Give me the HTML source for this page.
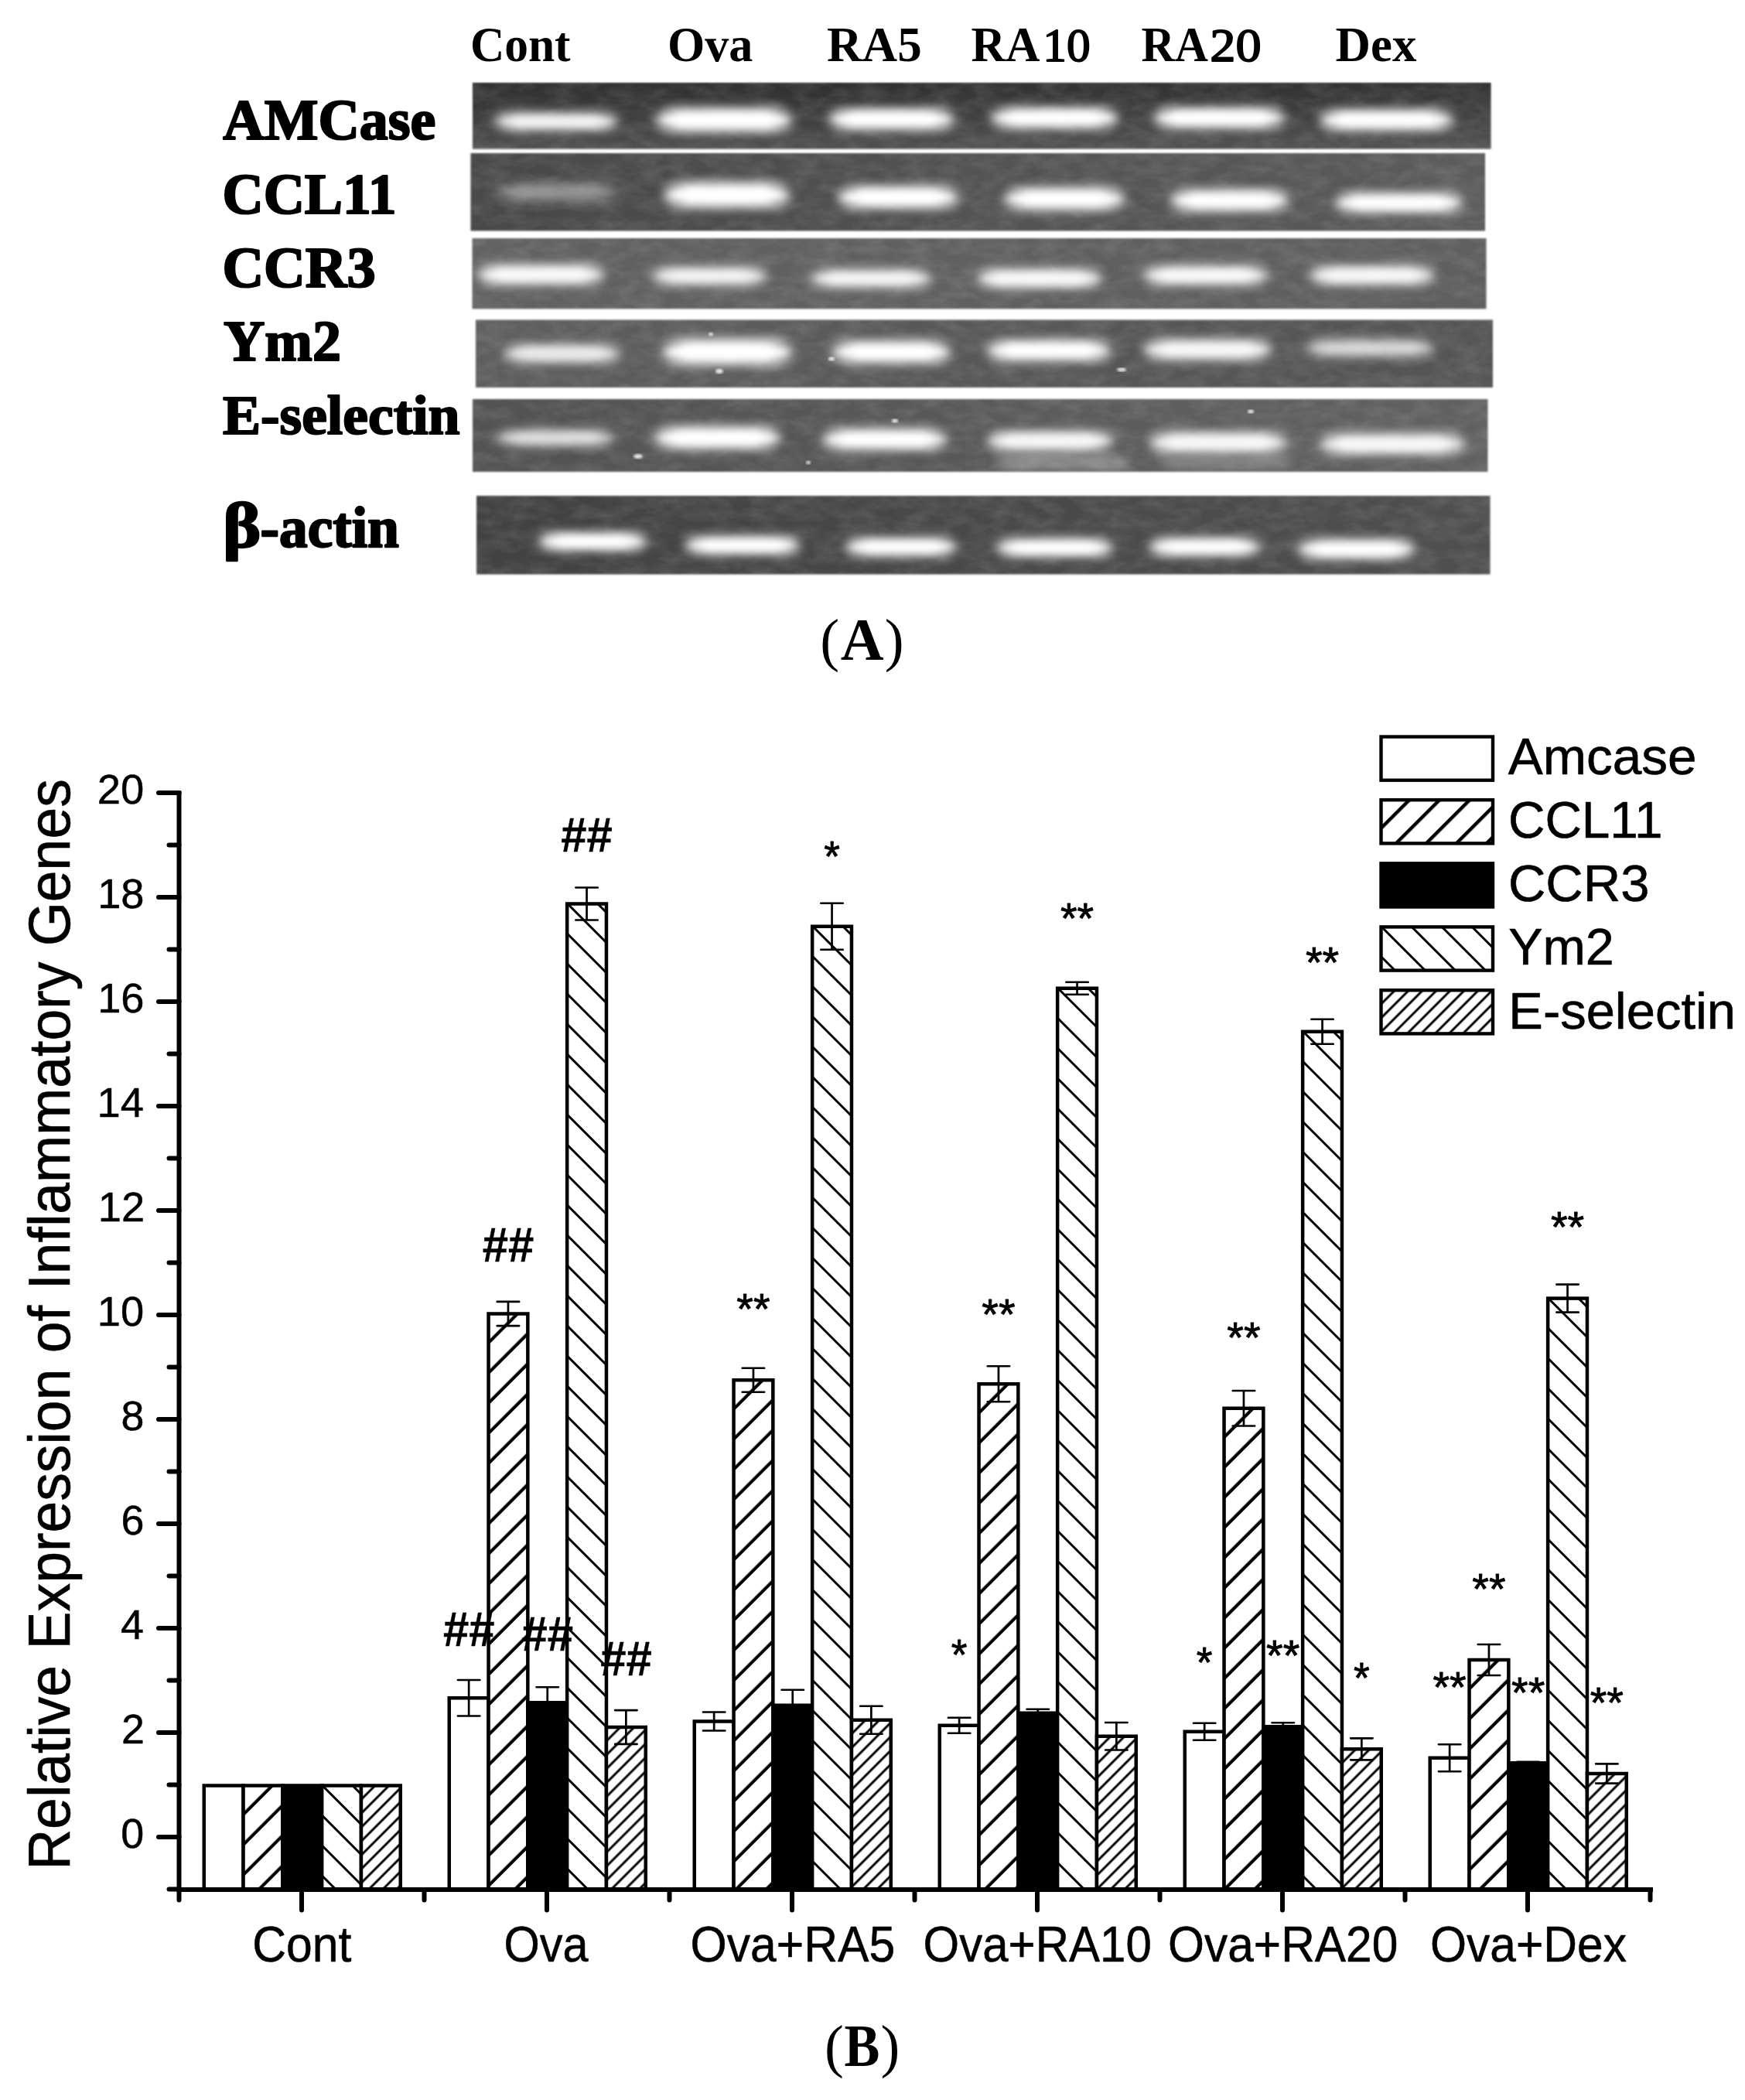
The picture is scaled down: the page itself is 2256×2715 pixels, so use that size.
<!DOCTYPE html>
<html><head><meta charset="utf-8"><title>Figure</title>
<style>html,body{margin:0;padding:0;background:#fff}svg{display:block}text{fill:#000}</style></head>
<body><svg width="2256" height="2715" viewBox="0 0 2256 2715">
<rect width="2256" height="2715" fill="#fff"/>
<defs><filter id="bl" x="-20%" y="-150%" width="140%" height="400%"><feGaussianBlur stdDeviation="6.5 4.5"/></filter><filter id="bl2" x="-20%" y="-150%" width="140%" height="400%"><feGaussianBlur stdDeviation="8 5.5"/></filter><filter id="noise" x="0" y="0" width="100%" height="100%"><feTurbulence type="fractalNoise" baseFrequency="0.035 0.07" numOctaves="3" seed="7"/><feColorMatrix type="matrix" values="0 0 0 0 1  0 0 0 0 1  0 0 0 0 1  0.32 0 0 0 -0.1"/></filter><filter id="bl3"><feGaussianBlur stdDeviation="1.6"/></filter><filter id="edge" x="-2%" y="-8%" width="104%" height="116%"><feGaussianBlur stdDeviation="0.9"/></filter><linearGradient id="gv1" x1="0" y1="0" x2="0" y2="1"><stop offset="0" stop-color="#000" stop-opacity=".22"/><stop offset=".5" stop-color="#000" stop-opacity="0"/><stop offset=".5" stop-color="#fff" stop-opacity="0"/><stop offset="1" stop-color="#fff" stop-opacity=".1"/></linearGradient></defs>
<clipPath id="cs1"><rect x="611" y="107" width="1316.5" height="85.5"/></clipPath>
<linearGradient id="gs1" x1="0" y1="0" x2="1" y2="0"><stop offset="0" stop-color="#3c3c3c"/><stop offset="1" stop-color="#424242"/></linearGradient>
<rect x="611" y="107" width="1316.5" height="85.5" fill="url(#gs1)" filter="url(#edge)"/>
<rect x="611" y="107" width="1316.5" height="85.5" fill="url(#gv1)"/>
<g clip-path="url(#cs1)">
<rect x="611" y="107" width="1316.5" height="85.5" filter="url(#noise)" opacity="0.6"/>
<rect x="640" y="142.5" width="158" height="29" rx="14.5" fill="#fff" opacity="0.48" filter="url(#bl2)"/>
<rect x="849" y="136.0" width="174" height="38" rx="19.0" fill="#fff" opacity="0.55" filter="url(#bl2)"/>
<rect x="1072" y="137.0" width="161" height="34" rx="17.0" fill="#fff" opacity="0.55" filter="url(#bl2)"/>
<rect x="1282" y="136.0" width="163" height="33" rx="16.5" fill="#fff" opacity="0.55" filter="url(#bl2)"/>
<rect x="1492" y="136.0" width="168" height="33" rx="16.5" fill="#fff" opacity="0.55" filter="url(#bl2)"/>
<rect x="1707" y="138.5" width="171" height="33" rx="16.5" fill="#fff" opacity="0.55" filter="url(#bl2)"/>
<g opacity="0.88" filter="url(#bl)" fill="#fff"><rect x="659" y="148.9" width="120" height="16.2" rx="8.1"/><ellipse cx="719.0" cy="157" rx="75.0" ry="8.1"/></g>
<g opacity="1" filter="url(#bl)" fill="#fff"><rect x="868" y="144.2" width="136" height="21.6" rx="10.8"/><ellipse cx="936.0" cy="155" rx="83.0" ry="10.8"/></g>
<g opacity="1" filter="url(#bl)" fill="#fff"><rect x="1091" y="144.4" width="123" height="19.2" rx="9.6"/><ellipse cx="1152.5" cy="154" rx="76.5" ry="9.6"/></g>
<g opacity="1" filter="url(#bl)" fill="#fff"><rect x="1301" y="143.2" width="125" height="18.6" rx="9.3"/><ellipse cx="1363.5" cy="152.5" rx="77.5" ry="9.3"/></g>
<g opacity="1" filter="url(#bl)" fill="#fff"><rect x="1511" y="143.2" width="130" height="18.6" rx="9.3"/><ellipse cx="1576.0" cy="152.5" rx="80.0" ry="9.3"/></g>
<g opacity="1" filter="url(#bl)" fill="#fff"><rect x="1726" y="145.7" width="133" height="18.6" rx="9.3"/><ellipse cx="1792.5" cy="155" rx="81.5" ry="9.3"/></g>
</g>
<clipPath id="cs2"><rect x="608.5" y="198" width="1311.5" height="100.5"/></clipPath>
<linearGradient id="gs2" x1="0" y1="0" x2="1" y2="0"><stop offset="0" stop-color="#494949"/><stop offset="1" stop-color="#5c5c5c"/></linearGradient>
<rect x="608.5" y="198" width="1311.5" height="100.5" fill="url(#gs2)" filter="url(#edge)"/>
<g clip-path="url(#cs2)">
<rect x="608.5" y="198" width="1311.5" height="100.5" filter="url(#noise)" opacity="0.6"/>
<rect x="642" y="232.0" width="156" height="32" rx="16.0" fill="#fff" opacity="0.15" filter="url(#bl2)"/>
<rect x="859" y="232.0" width="161" height="40" rx="20.0" fill="#fff" opacity="0.55" filter="url(#bl2)"/>
<rect x="1084" y="237.5" width="154" height="35" rx="17.5" fill="#fff" opacity="0.55" filter="url(#bl2)"/>
<rect x="1299" y="239.5" width="154" height="35" rx="17.5" fill="#fff" opacity="0.55" filter="url(#bl2)"/>
<rect x="1514" y="242.0" width="151" height="34" rx="17.0" fill="#fff" opacity="0.55" filter="url(#bl2)"/>
<rect x="1727" y="246.5" width="163" height="31" rx="15.5" fill="#fff" opacity="0.55" filter="url(#bl2)"/>
<g opacity="0.27" filter="url(#bl)" fill="#fff"><rect x="661" y="239.0" width="118" height="18.0" rx="9.0"/><ellipse cx="720.0" cy="248" rx="74.0" ry="9.0"/></g>
<g opacity="1" filter="url(#bl)" fill="#fff"><rect x="878" y="240.6" width="123" height="22.8" rx="11.4"/><ellipse cx="939.5" cy="252" rx="76.5" ry="11.4"/></g>
<g opacity="1" filter="url(#bl)" fill="#fff"><rect x="1103" y="245.1" width="116" height="19.8" rx="9.9"/><ellipse cx="1161.0" cy="255" rx="73.0" ry="9.9"/></g>
<g opacity="1" filter="url(#bl)" fill="#fff"><rect x="1318" y="247.1" width="116" height="19.8" rx="9.9"/><ellipse cx="1376.0" cy="257" rx="73.0" ry="9.9"/></g>
<g opacity="1" filter="url(#bl)" fill="#fff"><rect x="1533" y="249.4" width="113" height="19.2" rx="9.6"/><ellipse cx="1589.5" cy="259" rx="71.5" ry="9.6"/></g>
<g opacity="1" filter="url(#bl)" fill="#fff"><rect x="1746" y="253.3" width="125" height="17.4" rx="8.7"/><ellipse cx="1808.5" cy="262" rx="77.5" ry="8.7"/></g>
</g>
<clipPath id="cs3"><rect x="610.5" y="308" width="1311.0" height="91.30000000000001"/></clipPath>
<linearGradient id="gs3" x1="0" y1="0" x2="1" y2="0"><stop offset="0" stop-color="#626262"/><stop offset="1" stop-color="#5e5e5e"/></linearGradient>
<rect x="610.5" y="308" width="1311.0" height="91.30000000000001" fill="url(#gs3)" filter="url(#edge)"/>
<g clip-path="url(#cs3)">
<rect x="610.5" y="308" width="1311.0" height="91.30000000000001" filter="url(#noise)" opacity="0.6"/>
<rect x="618" y="339.0" width="162" height="32" rx="16.0" fill="#fff" opacity="0.51" filter="url(#bl2)"/>
<rect x="844" y="342.5" width="146" height="29" rx="14.5" fill="#fff" opacity="0.47" filter="url(#bl2)"/>
<rect x="1049" y="345.5" width="154" height="29" rx="14.5" fill="#fff" opacity="0.48" filter="url(#bl2)"/>
<rect x="1264" y="345.0" width="159" height="30" rx="15.0" fill="#fff" opacity="0.51" filter="url(#bl2)"/>
<rect x="1479" y="341.0" width="159" height="30" rx="15.0" fill="#fff" opacity="0.51" filter="url(#bl2)"/>
<rect x="1694" y="341.0" width="159" height="30" rx="15.0" fill="#fff" opacity="0.50" filter="url(#bl2)"/>
<g opacity="0.93" filter="url(#bl)" fill="#fff"><rect x="637" y="346.0" width="124" height="18.0" rx="9.0"/><ellipse cx="699.0" cy="355" rx="77.0" ry="9.0"/></g>
<g opacity="0.86" filter="url(#bl)" fill="#fff"><rect x="863" y="348.9" width="108" height="16.2" rx="8.1"/><ellipse cx="917.0" cy="357" rx="69.0" ry="8.1"/></g>
<g opacity="0.88" filter="url(#bl)" fill="#fff"><rect x="1068" y="351.9" width="116" height="16.2" rx="8.1"/><ellipse cx="1126.0" cy="360" rx="73.0" ry="8.1"/></g>
<g opacity="0.92" filter="url(#bl)" fill="#fff"><rect x="1283" y="351.6" width="121" height="16.8" rx="8.4"/><ellipse cx="1343.5" cy="360" rx="75.5" ry="8.4"/></g>
<g opacity="0.92" filter="url(#bl)" fill="#fff"><rect x="1498" y="347.6" width="121" height="16.8" rx="8.4"/><ellipse cx="1558.5" cy="356" rx="75.5" ry="8.4"/></g>
<g opacity="0.9" filter="url(#bl)" fill="#fff"><rect x="1713" y="347.6" width="121" height="16.8" rx="8.4"/><ellipse cx="1773.5" cy="356" rx="75.5" ry="8.4"/></g>
</g>
<clipPath id="cs4"><rect x="615" y="413.5" width="1315" height="87.5"/></clipPath>
<linearGradient id="gs4" x1="0" y1="0" x2="1" y2="0"><stop offset="0" stop-color="#5e5e5e"/><stop offset="1" stop-color="#545454"/></linearGradient>
<rect x="615" y="413.5" width="1315" height="87.5" fill="url(#gs4)" filter="url(#edge)"/>
<g clip-path="url(#cs4)">
<rect x="615" y="413.5" width="1315" height="87.5" filter="url(#noise)" opacity="0.6"/>
<rect x="652" y="442.0" width="149" height="30" rx="15.0" fill="#fff" opacity="0.42" filter="url(#bl2)"/>
<rect x="857" y="435.0" width="166" height="40" rx="20.0" fill="#fff" opacity="0.55" filter="url(#bl2)"/>
<rect x="1077" y="437.5" width="151" height="35" rx="17.5" fill="#fff" opacity="0.55" filter="url(#bl2)"/>
<rect x="1277" y="436.5" width="158" height="33" rx="16.5" fill="#fff" opacity="0.55" filter="url(#bl2)"/>
<rect x="1479" y="435.5" width="164" height="33" rx="16.5" fill="#fff" opacity="0.50" filter="url(#bl2)"/>
<rect x="1689" y="435.5" width="164" height="29" rx="14.5" fill="#fff" opacity="0.34" filter="url(#bl2)"/>
<g opacity="0.76" filter="url(#bl)" fill="#fff"><rect x="671" y="448.6" width="111" height="16.8" rx="8.4"/><ellipse cx="726.5" cy="457" rx="70.5" ry="8.4"/></g>
<g opacity="1" filter="url(#bl)" fill="#fff"><rect x="876" y="443.6" width="128" height="22.8" rx="11.4"/><ellipse cx="940.0" cy="455" rx="79.0" ry="11.4"/></g>
<g opacity="1" filter="url(#bl)" fill="#fff"><rect x="1096" y="445.1" width="113" height="19.8" rx="9.9"/><ellipse cx="1152.5" cy="455" rx="71.5" ry="9.9"/></g>
<g opacity="1" filter="url(#bl)" fill="#fff"><rect x="1296" y="443.7" width="120" height="18.6" rx="9.3"/><ellipse cx="1356.0" cy="453" rx="75.0" ry="9.3"/></g>
<g opacity="0.9" filter="url(#bl)" fill="#fff"><rect x="1498" y="442.7" width="126" height="18.6" rx="9.3"/><ellipse cx="1561.0" cy="452" rx="78.0" ry="9.3"/></g>
<g opacity="0.62" filter="url(#bl)" fill="#fff"><rect x="1708" y="441.9" width="126" height="16.2" rx="8.1"/><ellipse cx="1771.0" cy="450" rx="78.0" ry="8.1"/></g>
</g>
<clipPath id="cs5"><rect x="611" y="516" width="1312.5" height="94"/></clipPath>
<linearGradient id="gs5" x1="0" y1="0" x2="1" y2="0"><stop offset="0" stop-color="#525252"/><stop offset="1" stop-color="#626262"/></linearGradient>
<rect x="611" y="516" width="1312.5" height="94" fill="url(#gs5)" filter="url(#edge)"/>
<g clip-path="url(#cs5)">
<rect x="611" y="516" width="1312.5" height="94" filter="url(#noise)" opacity="0.6"/>
<rect x="644" y="552.5" width="149" height="27" rx="13.5" fill="#fff" opacity="0.37" filter="url(#bl2)"/>
<rect x="847" y="548.5" width="161" height="35" rx="17.5" fill="#fff" opacity="0.55" filter="url(#bl2)"/>
<rect x="1064" y="551.5" width="159" height="33" rx="16.5" fill="#fff" opacity="0.55" filter="url(#bl2)"/>
<rect x="1277" y="554.5" width="161" height="31" rx="15.5" fill="#fff" opacity="0.50" filter="url(#bl2)"/>
<rect x="1487" y="555.5" width="176" height="33" rx="16.5" fill="#fff" opacity="0.50" filter="url(#bl2)"/>
<rect x="1707" y="557.5" width="186" height="33" rx="16.5" fill="#fff" opacity="0.50" filter="url(#bl2)"/>
<g opacity="0.68" filter="url(#bl)" fill="#fff"><rect x="663" y="558.5" width="111" height="15.0" rx="7.5"/><ellipse cx="718.5" cy="566" rx="70.5" ry="7.5"/></g>
<g opacity="1" filter="url(#bl)" fill="#fff"><rect x="866" y="556.1" width="123" height="19.8" rx="9.9"/><ellipse cx="927.5" cy="566" rx="76.5" ry="9.9"/></g>
<g opacity="1" filter="url(#bl)" fill="#fff"><rect x="1083" y="558.7" width="121" height="18.6" rx="9.3"/><ellipse cx="1143.5" cy="568" rx="75.5" ry="9.3"/></g>
<g opacity="0.9" filter="url(#bl)" fill="#fff"><rect x="1296" y="561.3" width="123" height="17.4" rx="8.7"/><ellipse cx="1357.5" cy="570" rx="76.5" ry="8.7"/></g>
<g opacity="0.9" filter="url(#bl)" fill="#fff"><rect x="1506" y="562.7" width="138" height="18.6" rx="9.3"/><ellipse cx="1575.0" cy="572" rx="84.0" ry="9.3"/></g>
<g opacity="0.9" filter="url(#bl)" fill="#fff"><rect x="1726" y="564.7" width="148" height="18.6" rx="9.3"/><ellipse cx="1800.0" cy="574" rx="89.0" ry="9.3"/></g>
</g>
<clipPath id="cs6"><rect x="616" y="641" width="1310.5" height="101.5"/></clipPath>
<linearGradient id="gs6" x1="0" y1="0" x2="1" y2="0"><stop offset="0" stop-color="#424242"/><stop offset="1" stop-color="#505050"/></linearGradient>
<rect x="616" y="641" width="1310.5" height="101.5" fill="url(#gs6)" filter="url(#edge)"/>
<g clip-path="url(#cs6)">
<rect x="616" y="641" width="1310.5" height="101.5" filter="url(#noise)" opacity="0.6"/>
<rect x="697" y="685.5" width="138" height="29" rx="14.5" fill="#fff" opacity="0.55" filter="url(#bl2)"/>
<rect x="887" y="690.5" width="146" height="29" rx="14.5" fill="#fff" opacity="0.55" filter="url(#bl2)"/>
<rect x="1094" y="692.5" width="141" height="29" rx="14.5" fill="#fff" opacity="0.55" filter="url(#bl2)"/>
<rect x="1289" y="693.5" width="149" height="29" rx="14.5" fill="#fff" opacity="0.55" filter="url(#bl2)"/>
<rect x="1487" y="692.5" width="141" height="29" rx="14.5" fill="#fff" opacity="0.55" filter="url(#bl2)"/>
<rect x="1679" y="694.5" width="149" height="31" rx="15.5" fill="#fff" opacity="0.55" filter="url(#bl2)"/>
<g opacity="1" filter="url(#bl)" fill="#fff"><rect x="716" y="691.9" width="100" height="16.2" rx="8.1"/><ellipse cx="766.0" cy="700" rx="65.0" ry="8.1"/></g>
<g opacity="1" filter="url(#bl)" fill="#fff"><rect x="906" y="696.9" width="108" height="16.2" rx="8.1"/><ellipse cx="960.0" cy="705" rx="69.0" ry="8.1"/></g>
<g opacity="1" filter="url(#bl)" fill="#fff"><rect x="1113" y="698.9" width="103" height="16.2" rx="8.1"/><ellipse cx="1164.5" cy="707" rx="66.5" ry="8.1"/></g>
<g opacity="1" filter="url(#bl)" fill="#fff"><rect x="1308" y="699.9" width="111" height="16.2" rx="8.1"/><ellipse cx="1363.5" cy="708" rx="70.5" ry="8.1"/></g>
<g opacity="1" filter="url(#bl)" fill="#fff"><rect x="1506" y="698.9" width="103" height="16.2" rx="8.1"/><ellipse cx="1557.5" cy="707" rx="66.5" ry="8.1"/></g>
<g opacity="1" filter="url(#bl)" fill="#fff"><rect x="1698" y="701.3" width="111" height="17.4" rx="8.7"/><ellipse cx="1753.5" cy="710" rx="70.5" ry="8.7"/></g>
</g>
<ellipse cx="930" cy="480" rx="5" ry="3" fill="#fff" opacity=".85" filter="url(#bl3)"/>
<ellipse cx="1075" cy="464" rx="4" ry="2.5" fill="#fff" opacity=".85" filter="url(#bl3)"/>
<ellipse cx="825" cy="590" rx="6" ry="3" fill="#fff" opacity=".85" filter="url(#bl3)"/>
<ellipse cx="1157" cy="544" rx="4" ry="2.5" fill="#fff" opacity=".85" filter="url(#bl3)"/>
<ellipse cx="1450" cy="478" rx="6" ry="2.5" fill="#fff" opacity=".85" filter="url(#bl3)"/>
<ellipse cx="1617" cy="532" rx="4" ry="2.5" fill="#fff" opacity=".85" filter="url(#bl3)"/>
<ellipse cx="919" cy="432" rx="3" ry="2" fill="#fff" opacity=".85" filter="url(#bl3)"/>
<ellipse cx="1045" cy="598" rx="3" ry="2" fill="#fff" opacity=".85" filter="url(#bl3)"/>
<g clip-path="url(#cs5)"><rect x="1290" y="588" width="170" height="20" rx="10" fill="#fff" opacity=".28" filter="url(#bl2)"/><rect x="1500" y="590" width="170" height="18" rx="9" fill="#fff" opacity=".2" filter="url(#bl2)"/></g>
<text transform="matrix(0.6141 0 0 0.6288 607.93 79.00)" font-family='"Liberation Serif", "Times New Roman", serif' font-size="100" font-weight="bold">Cont</text>
<text transform="matrix(0.6210 0 0 0.6288 862.90 79.00)" font-family='"Liberation Serif", "Times New Roman", serif' font-size="100" font-weight="bold">Ova</text>
<text transform="matrix(0.6306 0 0 0.6288 1069.05 79.00)" font-family='"Liberation Serif", "Times New Roman", serif' font-size="100" font-weight="bold">RA5</text>
<text transform="matrix(0.6292 0 0 0.6336 1726.56 79.00)" font-family='"Liberation Serif", "Times New Roman", serif' font-size="100" font-weight="bold">Dex</text>
<text transform="matrix(0.6194 0 0 0.6288 0 79.00)" font-size="100"><tspan x="2026.82" textLength="143.70" lengthAdjust="spacingAndGlyphs" font-family='"Liberation Serif", "Times New Roman", serif' font-size="100.00" font-weight="bold">RA</tspan><tspan x="2176.69" textLength="99.21" lengthAdjust="spacingAndGlyphs" font-family='"Liberation Serif", "Times New Roman", serif' font-size="97.16" font-weight="normal" stroke="#000" stroke-width="2.8" stroke-linejoin="round">10</tspan></text>
<text transform="matrix(0.6194 0 0 0.6288 0 79.00)" font-size="100"><tspan x="2382.07" textLength="139.60" lengthAdjust="spacingAndGlyphs" font-family='"Liberation Serif", "Times New Roman", serif' font-size="100.00" font-weight="bold">RA</tspan><tspan x="2525.41" textLength="107.23" lengthAdjust="spacingAndGlyphs" font-family='"Liberation Serif", "Times New Roman", serif' font-size="97.16" font-weight="normal" stroke="#000" stroke-width="2.8" stroke-linejoin="round">20</tspan></text>
<text transform="matrix(0.7389 0 0 0.7407 288.37 179.50)" font-family='"Liberation Serif", "Times New Roman", serif' font-size="100" font-weight="bold" stroke="#000" stroke-width="3" stroke-linejoin="round">AMCase</text>
<text transform="matrix(0.7370 0 0 0.7481 287.42 275.50)" font-family='"Liberation Serif", "Times New Roman", serif' font-size="100" font-weight="bold" stroke="#000" stroke-width="3" stroke-linejoin="round">CCL11</text>
<text transform="matrix(0.7433 0 0 0.7407 287.40 370.50)" font-family='"Liberation Serif", "Times New Roman", serif' font-size="100" font-weight="bold" stroke="#000" stroke-width="3" stroke-linejoin="round">CCR3</text>
<text transform="matrix(0.7389 0 0 0.7407 289.00 466.00)" font-family='"Liberation Serif", "Times New Roman", serif' font-size="100" font-weight="bold" stroke="#000" stroke-width="3" stroke-linejoin="round">Ym2</text>
<text transform="matrix(0.7359 0 0 0.7113 288.00 561.00)" font-family='"Liberation Serif", "Times New Roman", serif' font-size="100" font-weight="bold" stroke="#000" stroke-width="3" stroke-linejoin="round">E-selectin</text>
<text transform="matrix(0.7570 0 0 0.7570 0 707.00)" font-size="100"><tspan x="380.43" textLength="65.22" lengthAdjust="spacingAndGlyphs" font-family='"Liberation Serif", "Times New Roman", serif' font-size="109.46" font-weight="bold" stroke="#000" stroke-width="3" stroke-linejoin="round">β</tspan><tspan x="444.61" font-family='"Liberation Serif", "Times New Roman", serif' font-size="96.93" font-weight="bold" stroke="#000" stroke-width="3" stroke-linejoin="round">-actin</tspan></text>
<text transform="matrix(0.7463 0 0 0.7615 0 853.06)" font-size="100"><tspan x="1420.85" font-family='"Liberation Serif", "Times New Roman", serif' font-size="100.00" font-weight="normal">(</tspan><tspan x="1456.14" textLength="74.81" lengthAdjust="spacingAndGlyphs" font-family='"Liberation Serif", "Times New Roman", serif' font-size="102.96" font-weight="bold">A</tspan><tspan x="1532.69" font-family='"Liberation Serif", "Times New Roman", serif' font-size="100.00" font-weight="normal">)</tspan></text>
<text transform="matrix(0.7458 0 0 0.7610 0 2671.07)" font-size="100"><tspan x="1429.25" font-family='"Liberation Serif", "Times New Roman", serif' font-size="100.00" font-weight="normal">(</tspan><tspan x="1463.55" textLength="61.54" lengthAdjust="spacingAndGlyphs" font-family='"Liberation Serif", "Times New Roman", serif' font-size="101.54" font-weight="bold">B</tspan><tspan x="1526.44" font-family='"Liberation Serif", "Times New Roman", serif' font-size="100.00" font-weight="normal">)</tspan></text>
<defs><pattern id="p1" patternUnits="userSpaceOnUse" width="40" height="27.5772" patternTransform="translate(314.55 2308.50) rotate(-45)"><rect width="40" height="27.5772" fill="#fff"/><line x1="-1" x2="41" y1="13.789" y2="13.789" stroke="#000" stroke-width="4.3" transform="translate(0 -14.849)"/><line x1="-1" x2="41" y1="13.789" y2="13.789" stroke="#000" stroke-width="4.3" transform="translate(0 12.728)"/></pattern><pattern id="p2" patternUnits="userSpaceOnUse" width="40" height="27.5772" patternTransform="translate(416.15 2308.50) rotate(45)"><rect width="40" height="27.5772" fill="#fff"/><line x1="-1" x2="41" y1="13.789" y2="13.789" stroke="#000" stroke-width="2.9" transform="translate(0 -14.213)"/><line x1="-1" x2="41" y1="13.789" y2="13.789" stroke="#000" stroke-width="2.9" transform="translate(0 13.364)"/></pattern><pattern id="p3" patternUnits="userSpaceOnUse" width="40" height="12.7279" patternTransform="translate(466.95 2308.50) rotate(-45)"><rect width="40" height="12.7279" fill="#fff"/><line x1="-1" x2="41" y1="6.364" y2="6.364" stroke="#000" stroke-width="2.9" transform="translate(0 -6.364)"/><line x1="-1" x2="41" y1="6.364" y2="6.364" stroke="#000" stroke-width="2.9" transform="translate(0 6.364)"/></pattern><pattern id="p4" patternUnits="userSpaceOnUse" width="40" height="27.5772" patternTransform="translate(631.55 1698.50) rotate(-45)"><rect width="40" height="27.5772" fill="#fff"/><line x1="-1" x2="41" y1="13.789" y2="13.789" stroke="#000" stroke-width="4.3" transform="translate(0 -14.849)"/><line x1="-1" x2="41" y1="13.789" y2="13.789" stroke="#000" stroke-width="4.3" transform="translate(0 12.728)"/></pattern><pattern id="p5" patternUnits="userSpaceOnUse" width="40" height="27.5772" patternTransform="translate(733.15 1168.50) rotate(45)"><rect width="40" height="27.5772" fill="#fff"/><line x1="-1" x2="41" y1="13.789" y2="13.789" stroke="#000" stroke-width="2.9" transform="translate(0 -14.213)"/><line x1="-1" x2="41" y1="13.789" y2="13.789" stroke="#000" stroke-width="2.9" transform="translate(0 13.364)"/></pattern><pattern id="p6" patternUnits="userSpaceOnUse" width="40" height="12.7279" patternTransform="translate(783.95 2233.00) rotate(-45)"><rect width="40" height="12.7279" fill="#fff"/><line x1="-1" x2="41" y1="6.364" y2="6.364" stroke="#000" stroke-width="2.9" transform="translate(0 -6.364)"/><line x1="-1" x2="41" y1="6.364" y2="6.364" stroke="#000" stroke-width="2.9" transform="translate(0 6.364)"/></pattern><pattern id="p7" patternUnits="userSpaceOnUse" width="40" height="27.5772" patternTransform="translate(948.55 1784.25) rotate(-45)"><rect width="40" height="27.5772" fill="#fff"/><line x1="-1" x2="41" y1="13.789" y2="13.789" stroke="#000" stroke-width="4.3" transform="translate(0 -14.849)"/><line x1="-1" x2="41" y1="13.789" y2="13.789" stroke="#000" stroke-width="4.3" transform="translate(0 12.728)"/></pattern><pattern id="p8" patternUnits="userSpaceOnUse" width="40" height="27.5772" patternTransform="translate(1050.15 1197.75) rotate(45)"><rect width="40" height="27.5772" fill="#fff"/><line x1="-1" x2="41" y1="13.789" y2="13.789" stroke="#000" stroke-width="2.9" transform="translate(0 -14.213)"/><line x1="-1" x2="41" y1="13.789" y2="13.789" stroke="#000" stroke-width="2.9" transform="translate(0 13.364)"/></pattern><pattern id="p9" patternUnits="userSpaceOnUse" width="40" height="12.7279" patternTransform="translate(1100.95 2223.75) rotate(-45)"><rect width="40" height="12.7279" fill="#fff"/><line x1="-1" x2="41" y1="6.364" y2="6.364" stroke="#000" stroke-width="2.9" transform="translate(0 -6.364)"/><line x1="-1" x2="41" y1="6.364" y2="6.364" stroke="#000" stroke-width="2.9" transform="translate(0 6.364)"/></pattern><pattern id="p10" patternUnits="userSpaceOnUse" width="40" height="27.5772" patternTransform="translate(1265.55 1789.25) rotate(-45)"><rect width="40" height="27.5772" fill="#fff"/><line x1="-1" x2="41" y1="13.789" y2="13.789" stroke="#000" stroke-width="4.3" transform="translate(0 -14.849)"/><line x1="-1" x2="41" y1="13.789" y2="13.789" stroke="#000" stroke-width="4.3" transform="translate(0 12.728)"/></pattern><pattern id="p11" patternUnits="userSpaceOnUse" width="40" height="27.5772" patternTransform="translate(1367.15 1277.75) rotate(45)"><rect width="40" height="27.5772" fill="#fff"/><line x1="-1" x2="41" y1="13.789" y2="13.789" stroke="#000" stroke-width="2.9" transform="translate(0 -14.213)"/><line x1="-1" x2="41" y1="13.789" y2="13.789" stroke="#000" stroke-width="2.9" transform="translate(0 13.364)"/></pattern><pattern id="p12" patternUnits="userSpaceOnUse" width="40" height="12.7279" patternTransform="translate(1417.95 2244.75) rotate(-45)"><rect width="40" height="12.7279" fill="#fff"/><line x1="-1" x2="41" y1="6.364" y2="6.364" stroke="#000" stroke-width="2.9" transform="translate(0 -6.364)"/><line x1="-1" x2="41" y1="6.364" y2="6.364" stroke="#000" stroke-width="2.9" transform="translate(0 6.364)"/></pattern><pattern id="p13" patternUnits="userSpaceOnUse" width="40" height="27.5772" patternTransform="translate(1582.55 1820.75) rotate(-45)"><rect width="40" height="27.5772" fill="#fff"/><line x1="-1" x2="41" y1="13.789" y2="13.789" stroke="#000" stroke-width="4.3" transform="translate(0 -14.849)"/><line x1="-1" x2="41" y1="13.789" y2="13.789" stroke="#000" stroke-width="4.3" transform="translate(0 12.728)"/></pattern><pattern id="p14" patternUnits="userSpaceOnUse" width="40" height="27.5772" patternTransform="translate(1684.15 1333.75) rotate(45)"><rect width="40" height="27.5772" fill="#fff"/><line x1="-1" x2="41" y1="13.789" y2="13.789" stroke="#000" stroke-width="2.9" transform="translate(0 -14.213)"/><line x1="-1" x2="41" y1="13.789" y2="13.789" stroke="#000" stroke-width="2.9" transform="translate(0 13.364)"/></pattern><pattern id="p15" patternUnits="userSpaceOnUse" width="40" height="12.7279" patternTransform="translate(1734.95 2261.30) rotate(-45)"><rect width="40" height="12.7279" fill="#fff"/><line x1="-1" x2="41" y1="6.364" y2="6.364" stroke="#000" stroke-width="2.9" transform="translate(0 -6.364)"/><line x1="-1" x2="41" y1="6.364" y2="6.364" stroke="#000" stroke-width="2.9" transform="translate(0 6.364)"/></pattern><pattern id="p16" patternUnits="userSpaceOnUse" width="40" height="27.5772" patternTransform="translate(1899.55 2146.00) rotate(-45)"><rect width="40" height="27.5772" fill="#fff"/><line x1="-1" x2="41" y1="13.789" y2="13.789" stroke="#000" stroke-width="4.3" transform="translate(0 -14.849)"/><line x1="-1" x2="41" y1="13.789" y2="13.789" stroke="#000" stroke-width="4.3" transform="translate(0 12.728)"/></pattern><pattern id="p17" patternUnits="userSpaceOnUse" width="40" height="27.5772" patternTransform="translate(2001.15 1678.60) rotate(45)"><rect width="40" height="27.5772" fill="#fff"/><line x1="-1" x2="41" y1="13.789" y2="13.789" stroke="#000" stroke-width="2.9" transform="translate(0 -14.213)"/><line x1="-1" x2="41" y1="13.789" y2="13.789" stroke="#000" stroke-width="2.9" transform="translate(0 13.364)"/></pattern><pattern id="p18" patternUnits="userSpaceOnUse" width="40" height="12.7279" patternTransform="translate(2051.95 2293.00) rotate(-45)"><rect width="40" height="12.7279" fill="#fff"/><line x1="-1" x2="41" y1="6.364" y2="6.364" stroke="#000" stroke-width="2.9" transform="translate(0 -6.364)"/><line x1="-1" x2="41" y1="6.364" y2="6.364" stroke="#000" stroke-width="2.9" transform="translate(0 6.364)"/></pattern></defs>
<g shape-rendering="auto"><rect x="263.75" y="2308.50" width="50.80" height="134.50" fill="#fff" stroke="#000" stroke-width="4.5"/><rect x="314.55" y="2308.50" width="50.80" height="134.50" fill="url(#p1)" stroke="#000" stroke-width="4.5"/><rect x="365.35" y="2308.50" width="50.80" height="134.50" fill="#000" stroke="#000" stroke-width="4.5"/><rect x="416.15" y="2308.50" width="50.80" height="134.50" fill="url(#p2)" stroke="#000" stroke-width="4.5"/><rect x="466.95" y="2308.50" width="50.80" height="134.50" fill="url(#p3)" stroke="#000" stroke-width="4.5"/><rect x="580.75" y="2195.25" width="50.80" height="247.75" fill="#fff" stroke="#000" stroke-width="4.5"/><rect x="631.55" y="1698.50" width="50.80" height="744.50" fill="url(#p4)" stroke="#000" stroke-width="4.5"/><rect x="682.35" y="2201.25" width="50.80" height="241.75" fill="#000" stroke="#000" stroke-width="4.5"/><rect x="733.15" y="1168.50" width="50.80" height="1274.50" fill="url(#p5)" stroke="#000" stroke-width="4.5"/><rect x="783.95" y="2233.00" width="50.80" height="210.00" fill="url(#p6)" stroke="#000" stroke-width="4.5"/><rect x="897.75" y="2225.50" width="50.80" height="217.50" fill="#fff" stroke="#000" stroke-width="4.5"/><rect x="948.55" y="1784.25" width="50.80" height="658.75" fill="url(#p7)" stroke="#000" stroke-width="4.5"/><rect x="999.35" y="2204.75" width="50.80" height="238.25" fill="#000" stroke="#000" stroke-width="4.5"/><rect x="1050.15" y="1197.75" width="50.80" height="1245.25" fill="url(#p8)" stroke="#000" stroke-width="4.5"/><rect x="1100.95" y="2223.75" width="50.80" height="219.25" fill="url(#p9)" stroke="#000" stroke-width="4.5"/><rect x="1214.75" y="2230.75" width="50.80" height="212.25" fill="#fff" stroke="#000" stroke-width="4.5"/><rect x="1265.55" y="1789.25" width="50.80" height="653.75" fill="url(#p10)" stroke="#000" stroke-width="4.5"/><rect x="1316.35" y="2214.75" width="50.80" height="228.25" fill="#000" stroke="#000" stroke-width="4.5"/><rect x="1367.15" y="1277.75" width="50.80" height="1165.25" fill="url(#p11)" stroke="#000" stroke-width="4.5"/><rect x="1417.95" y="2244.75" width="50.80" height="198.25" fill="url(#p12)" stroke="#000" stroke-width="4.5"/><rect x="1531.75" y="2238.75" width="50.80" height="204.25" fill="#fff" stroke="#000" stroke-width="4.5"/><rect x="1582.55" y="1820.75" width="50.80" height="622.25" fill="url(#p13)" stroke="#000" stroke-width="4.5"/><rect x="1633.35" y="2232.25" width="50.80" height="210.75" fill="#000" stroke="#000" stroke-width="4.5"/><rect x="1684.15" y="1333.75" width="50.80" height="1109.25" fill="url(#p14)" stroke="#000" stroke-width="4.5"/><rect x="1734.95" y="2261.30" width="50.80" height="181.70" fill="url(#p15)" stroke="#000" stroke-width="4.5"/><rect x="1848.75" y="2272.75" width="50.80" height="170.25" fill="#fff" stroke="#000" stroke-width="4.5"/><rect x="1899.55" y="2146.00" width="50.80" height="297.00" fill="url(#p16)" stroke="#000" stroke-width="4.5"/><rect x="1950.35" y="2279.25" width="50.80" height="163.75" fill="#000" stroke="#000" stroke-width="4.5"/><rect x="2001.15" y="1678.60" width="50.80" height="764.40" fill="url(#p17)" stroke="#000" stroke-width="4.5"/><rect x="2051.95" y="2293.00" width="50.80" height="150.00" fill="url(#p18)" stroke="#000" stroke-width="4.5"/></g>
<path d="M606.15 2172.00V2218.50M591.95 2172.00h28.4M591.95 2218.50h28.4" stroke="#000" stroke-width="2.7" fill="none" stroke-linecap="round"/><path d="M656.95 1682.90V1714.10M642.75 1682.90h28.4M642.75 1714.10h28.4" stroke="#000" stroke-width="2.7" fill="none" stroke-linecap="round"/><path d="M707.75 2181.25V2221.25M693.55 2181.25h28.4M693.55 2221.25h28.4" stroke="#000" stroke-width="2.7" fill="none" stroke-linecap="round"/><path d="M758.55 1147.50V1189.50M744.35 1147.50h28.4M744.35 1189.50h28.4" stroke="#000" stroke-width="2.7" fill="none" stroke-linecap="round"/><path d="M809.35 2211.10V2254.90M795.15 2211.10h28.4M795.15 2254.90h28.4" stroke="#000" stroke-width="2.7" fill="none" stroke-linecap="round"/><path d="M923.15 2213.50V2237.50M908.95 2213.50h28.4M908.95 2237.50h28.4" stroke="#000" stroke-width="2.7" fill="none" stroke-linecap="round"/><path d="M973.95 1768.75V1799.75M959.75 1768.75h28.4M959.75 1799.75h28.4" stroke="#000" stroke-width="2.7" fill="none" stroke-linecap="round"/><path d="M1024.75 2184.75V2224.75M1010.55 2184.75h28.4M1010.55 2224.75h28.4" stroke="#000" stroke-width="2.7" fill="none" stroke-linecap="round"/><path d="M1075.55 1167.75V1227.75M1061.35 1167.75h28.4M1061.35 1227.75h28.4" stroke="#000" stroke-width="2.7" fill="none" stroke-linecap="round"/><path d="M1126.35 2205.75V2241.75M1112.15 2205.75h28.4M1112.15 2241.75h28.4" stroke="#000" stroke-width="2.7" fill="none" stroke-linecap="round"/><path d="M1240.15 2220.75V2240.75M1225.95 2220.75h28.4M1225.95 2240.75h28.4" stroke="#000" stroke-width="2.7" fill="none" stroke-linecap="round"/><path d="M1290.95 1766.25V1812.25M1276.75 1766.25h28.4M1276.75 1812.25h28.4" stroke="#000" stroke-width="2.7" fill="none" stroke-linecap="round"/><path d="M1341.75 2209.75V2219.75M1327.55 2209.75h28.4M1327.55 2219.75h28.4" stroke="#000" stroke-width="2.7" fill="none" stroke-linecap="round"/><path d="M1392.55 1269.75V1285.75M1378.35 1269.75h28.4M1378.35 1285.75h28.4" stroke="#000" stroke-width="2.7" fill="none" stroke-linecap="round"/><path d="M1443.35 2227.00V2262.50M1429.15 2227.00h28.4M1429.15 2262.50h28.4" stroke="#000" stroke-width="2.7" fill="none" stroke-linecap="round"/><path d="M1557.15 2227.75V2249.75M1542.95 2227.75h28.4M1542.95 2249.75h28.4" stroke="#000" stroke-width="2.7" fill="none" stroke-linecap="round"/><path d="M1607.95 1798.00V1843.50M1593.75 1798.00h28.4M1593.75 1843.50h28.4" stroke="#000" stroke-width="2.7" fill="none" stroke-linecap="round"/><path d="M1658.75 2227.25V2237.25M1644.55 2227.25h28.4M1644.55 2237.25h28.4" stroke="#000" stroke-width="2.7" fill="none" stroke-linecap="round"/><path d="M1709.55 1317.75V1349.75M1695.35 1317.75h28.4M1695.35 1349.75h28.4" stroke="#000" stroke-width="2.7" fill="none" stroke-linecap="round"/><path d="M1760.35 2247.30V2275.30M1746.15 2247.30h28.4M1746.15 2275.30h28.4" stroke="#000" stroke-width="2.7" fill="none" stroke-linecap="round"/><path d="M1874.15 2255.25V2290.25M1859.95 2255.25h28.4M1859.95 2290.25h28.4" stroke="#000" stroke-width="2.7" fill="none" stroke-linecap="round"/><path d="M1924.95 2126.00V2166.00M1910.75 2126.00h28.4M1910.75 2166.00h28.4" stroke="#000" stroke-width="2.7" fill="none" stroke-linecap="round"/><path d="M1975.75 2277.75V2280.75M1961.55 2277.75h28.4M1961.55 2280.75h28.4" stroke="#000" stroke-width="2.7" fill="none" stroke-linecap="round"/><path d="M2026.55 1660.60V1696.60M2012.35 1660.60h28.4M2012.35 1696.60h28.4" stroke="#000" stroke-width="2.7" fill="none" stroke-linecap="round"/><path d="M2077.35 2280.40V2305.60M2063.15 2280.40h28.4M2063.15 2305.60h28.4" stroke="#000" stroke-width="2.7" fill="none" stroke-linecap="round"/>
<path d="M231.5 1022.5V2446.0M228.5 2443.0H2137" stroke="#000" stroke-width="6" fill="none"/>
<path d="M218.5 2442.50H231.5M205 2375.00H231.5M218.5 2307.50H231.5M205 2240.00H231.5M218.5 2172.50H231.5M205 2105.00H231.5M218.5 2037.50H231.5M205 1970.00H231.5M218.5 1902.50H231.5M205 1835.00H231.5M218.5 1767.50H231.5M205 1700.00H231.5M218.5 1632.50H231.5M205 1565.00H231.5M218.5 1497.50H231.5M205 1430.00H231.5M218.5 1362.50H231.5M205 1295.00H231.5M218.5 1227.50H231.5M205 1160.00H231.5M218.5 1092.50H231.5M205 1025.00H231.5M231.50 2443.0V2456.5M548.50 2443.0V2456.5M865.50 2443.0V2456.5M1182.50 2443.0V2456.5M1499.50 2443.0V2456.5M1816.50 2443.0V2456.5M2133.50 2443.0V2456.5M390.00 2443.0V2469.5M707.00 2443.0V2469.5M1024.00 2443.0V2469.5M1341.00 2443.0V2469.5M1658.00 2443.0V2469.5M1975.00 2443.0V2469.5" stroke="#000" stroke-width="6" fill="none" stroke-linecap="round"/>
<text transform="matrix(0.5379 0 0 0.5300 156.29 2388.70)" font-family='"Liberation Sans", Arial, sans-serif' font-size="100" stroke="#000" stroke-width="0.9" stroke-linejoin="round">0</text>
<text transform="matrix(0.5374 0 0 0.5300 157.12 2253.70)" font-family='"Liberation Sans", Arial, sans-serif' font-size="100" stroke="#000" stroke-width="0.9" stroke-linejoin="round">2</text>
<text transform="matrix(0.5384 0 0 0.5300 155.99 2118.70)" font-family='"Liberation Sans", Arial, sans-serif' font-size="100" stroke="#000" stroke-width="0.9" stroke-linejoin="round">4</text>
<text transform="matrix(0.5376 0 0 0.5300 156.57 1983.70)" font-family='"Liberation Sans", Arial, sans-serif' font-size="100" stroke="#000" stroke-width="0.9" stroke-linejoin="round">6</text>
<text transform="matrix(0.5377 0 0 0.5300 156.57 1848.70)" font-family='"Liberation Sans", Arial, sans-serif' font-size="100" stroke="#000" stroke-width="0.9" stroke-linejoin="round">8</text>
<text transform="matrix(0.5431 0 0 0.5300 125.87 1713.70)" font-family='"Liberation Sans", Arial, sans-serif' font-size="100" stroke="#000" stroke-width="0.9" stroke-linejoin="round">10</text>
<text transform="matrix(0.5430 0 0 0.5300 126.69 1578.70)" font-family='"Liberation Sans", Arial, sans-serif' font-size="100" stroke="#000" stroke-width="0.9" stroke-linejoin="round">12</text>
<text transform="matrix(0.5431 0 0 0.5300 125.60 1443.70)" font-family='"Liberation Sans", Arial, sans-serif' font-size="100" stroke="#000" stroke-width="0.9" stroke-linejoin="round">14</text>
<text transform="matrix(0.5431 0 0 0.5300 126.15 1308.70)" font-family='"Liberation Sans", Arial, sans-serif' font-size="100" stroke="#000" stroke-width="0.9" stroke-linejoin="round">16</text>
<text transform="matrix(0.5431 0 0 0.5300 126.15 1173.70)" font-family='"Liberation Sans", Arial, sans-serif' font-size="100" stroke="#000" stroke-width="0.9" stroke-linejoin="round">18</text>
<text transform="matrix(0.5432 0 0 0.5300 125.86 1038.70)" font-family='"Liberation Sans", Arial, sans-serif' font-size="100" stroke="#000" stroke-width="0.9" stroke-linejoin="round">20</text>
<text transform="matrix(0.6066 0 0 0.6500 326.14 2536.00)" font-family='"Liberation Sans", Arial, sans-serif' font-size="100" stroke="#000" stroke-width="0.9" stroke-linejoin="round">Cont</text>
<text transform="matrix(0.5948 0 0 0.6500 651.59 2536.00)" font-family='"Liberation Sans", Arial, sans-serif' font-size="100" stroke="#000" stroke-width="0.9" stroke-linejoin="round">Ova</text>
<text transform="matrix(0.6069 0 0 0.6500 892.54 2536.00)" font-family='"Liberation Sans", Arial, sans-serif' font-size="100" stroke="#000" stroke-width="0.9" stroke-linejoin="round">Ova+RA5</text>
<text transform="matrix(0.6001 0 0 0.6500 1193.57 2536.00)" font-family='"Liberation Sans", Arial, sans-serif' font-size="100" stroke="#000" stroke-width="0.9" stroke-linejoin="round">Ova+RA10</text>
<text transform="matrix(0.6042 0 0 0.6500 1510.05 2536.00)" font-family='"Liberation Sans", Arial, sans-serif' font-size="100" stroke="#000" stroke-width="0.9" stroke-linejoin="round">Ova+RA20</text>
<text transform="matrix(0.6050 0 0 0.6500 1849.05 2536.00)" font-family='"Liberation Sans", Arial, sans-serif' font-size="100" stroke="#000" stroke-width="0.9" stroke-linejoin="round">Ova+Dex</text>
<text transform="matrix(0 -0.7337 0.7517 0 89.50 2417.87)" font-family='"Liberation Sans", Arial, sans-serif' font-size="100" stroke="#000" stroke-width="0.8">Relative Expression of Inflammatory Genes</text>
<defs><pattern id="lp1" patternUnits="userSpaceOnUse" width="40" height="27.5772" patternTransform="translate(1785.50 1034.20) rotate(-45)"><rect width="40" height="27.5772" fill="#fff"/><line x1="-1" x2="41" y1="0" y2="0" stroke="#000" stroke-width="4.3" transform="translate(0 -1.768)"/><line x1="-1" x2="41" y1="0" y2="0" stroke="#000" stroke-width="4.3" transform="translate(0 25.809)"/></pattern><pattern id="lp3" patternUnits="userSpaceOnUse" width="40" height="27.5772" patternTransform="translate(1785.50 1198.40) rotate(45)"><rect width="40" height="27.5772" fill="#fff"/><line x1="-1" x2="41" y1="0" y2="0" stroke="#000" stroke-width="2.9" transform="translate(0 -0.424)"/><line x1="-1" x2="41" y1="0" y2="0" stroke="#000" stroke-width="2.9" transform="translate(0 27.153)"/></pattern><pattern id="lp4" patternUnits="userSpaceOnUse" width="40" height="12.7279" patternTransform="translate(1785.50 1280.20) rotate(-45)"><rect width="40" height="12.7279" fill="#fff"/><line x1="-1" x2="41" y1="0" y2="0" stroke="#000" stroke-width="2.9" transform="translate(0 0.000)"/><line x1="-1" x2="41" y1="0" y2="0" stroke="#000" stroke-width="2.9" transform="translate(0 12.728)"/></pattern></defs><rect x="1785.5" y="952.5" width="144.5" height="56.2" fill="#fff" stroke="#000" stroke-width="4.4"/><rect x="1785.5" y="1034.2" width="144.5" height="56.2" fill="url(#lp1)" stroke="#000" stroke-width="4.4"/><rect x="1785.5" y="1116.3" width="144.5" height="56.2" fill="#000" stroke="#000" stroke-width="4.4"/><rect x="1785.5" y="1198.4" width="144.5" height="56.2" fill="url(#lp3)" stroke="#000" stroke-width="4.4"/><rect x="1785.5" y="1280.2" width="144.5" height="56.2" fill="url(#lp4)" stroke="#000" stroke-width="4.4"/>
<text transform="matrix(0.6752 0 0 0.6650 1949.80 1001.30)" font-family='"Liberation Sans", Arial, sans-serif' font-size="100" stroke="#000" stroke-width="0.9" stroke-linejoin="round">Amcase</text>
<text transform="matrix(0.6567 0 0 0.6650 1950.01 1083.30)" font-family='"Liberation Sans", Arial, sans-serif' font-size="100" stroke="#000" stroke-width="0.9" stroke-linejoin="round">CCL11</text>
<text transform="matrix(0.6707 0 0 0.6650 1949.95 1165.10)" font-family='"Liberation Sans", Arial, sans-serif' font-size="100" stroke="#000" stroke-width="0.9" stroke-linejoin="round">CCR3</text>
<text transform="matrix(0.6637 0 0 0.6650 1950.14 1247.20)" font-family='"Liberation Sans", Arial, sans-serif' font-size="100" stroke="#000" stroke-width="0.9" stroke-linejoin="round">Ym2</text>
<text transform="matrix(0.6693 0 0 0.6650 1950.25 1329.50)" font-family='"Liberation Sans", Arial, sans-serif' font-size="100" stroke="#000" stroke-width="0.9" stroke-linejoin="round">E-selectin</text>
<text transform="matrix(0.5985 0 0 0.6341 572.93 2127.81)" font-family='"Liberation Sans", Arial, sans-serif' font-size="100" font-weight="bold" stroke="#000" stroke-width="0.6" stroke-linejoin="round">##</text>
<text transform="matrix(0.5985 0 0 0.6341 623.73 1630.81)" font-family='"Liberation Sans", Arial, sans-serif' font-size="100" font-weight="bold" stroke="#000" stroke-width="0.6" stroke-linejoin="round">##</text>
<text transform="matrix(0.5985 0 0 0.6341 674.53 2133.81)" font-family='"Liberation Sans", Arial, sans-serif' font-size="100" font-weight="bold" stroke="#000" stroke-width="0.6" stroke-linejoin="round">##</text>
<text transform="matrix(0.5985 0 0 0.6341 725.33 1100.81)" font-family='"Liberation Sans", Arial, sans-serif' font-size="100" font-weight="bold" stroke="#000" stroke-width="0.6" stroke-linejoin="round">##</text>
<text transform="matrix(0.5985 0 0 0.6341 776.13 2165.81)" font-family='"Liberation Sans", Arial, sans-serif' font-size="100" font-weight="bold" stroke="#000" stroke-width="0.6" stroke-linejoin="round">##</text>
<text transform="matrix(0.5548 0 0 0.5601 952.31 1710.60)" font-family='"Liberation Sans", Arial, sans-serif' font-size="100" stroke="#000" stroke-width="1.6" stroke-linejoin="round">**</text>
<text transform="matrix(0.5319 0 0 0.5601 1065.18 1125.60)" font-family='"Liberation Sans", Arial, sans-serif' font-size="100" stroke="#000" stroke-width="1.6" stroke-linejoin="round">*</text>
<text transform="matrix(0.5319 0 0 0.5601 1229.78 2158.10)" font-family='"Liberation Sans", Arial, sans-serif' font-size="100" stroke="#000" stroke-width="1.6" stroke-linejoin="round">*</text>
<text transform="matrix(0.5548 0 0 0.5601 1269.31 1718.10)" font-family='"Liberation Sans", Arial, sans-serif' font-size="100" stroke="#000" stroke-width="1.6" stroke-linejoin="round">**</text>
<text transform="matrix(0.5548 0 0 0.5601 1370.91 1205.60)" font-family='"Liberation Sans", Arial, sans-serif' font-size="100" stroke="#000" stroke-width="1.6" stroke-linejoin="round">**</text>
<text transform="matrix(0.5319 0 0 0.5601 1546.78 2168.10)" font-family='"Liberation Sans", Arial, sans-serif' font-size="100" stroke="#000" stroke-width="1.6" stroke-linejoin="round">*</text>
<text transform="matrix(0.5548 0 0 0.5601 1586.31 1748.10)" font-family='"Liberation Sans", Arial, sans-serif' font-size="100" stroke="#000" stroke-width="1.6" stroke-linejoin="round">**</text>
<text transform="matrix(0.5548 0 0 0.5601 1637.11 2159.10)" font-family='"Liberation Sans", Arial, sans-serif' font-size="100" stroke="#000" stroke-width="1.6" stroke-linejoin="round">**</text>
<text transform="matrix(0.5548 0 0 0.5601 1687.91 1263.10)" font-family='"Liberation Sans", Arial, sans-serif' font-size="100" stroke="#000" stroke-width="1.6" stroke-linejoin="round">**</text>
<text transform="matrix(0.5319 0 0 0.5601 1749.98 2188.10)" font-family='"Liberation Sans", Arial, sans-serif' font-size="100" stroke="#000" stroke-width="1.6" stroke-linejoin="round">*</text>
<text transform="matrix(0.5548 0 0 0.5601 1852.51 2199.85)" font-family='"Liberation Sans", Arial, sans-serif' font-size="100" stroke="#000" stroke-width="1.6" stroke-linejoin="round">**</text>
<text transform="matrix(0.5548 0 0 0.5601 1903.31 2073.10)" font-family='"Liberation Sans", Arial, sans-serif' font-size="100" stroke="#000" stroke-width="1.6" stroke-linejoin="round">**</text>
<text transform="matrix(0.5548 0 0 0.5601 1954.11 2206.85)" font-family='"Liberation Sans", Arial, sans-serif' font-size="100" stroke="#000" stroke-width="1.6" stroke-linejoin="round">**</text>
<text transform="matrix(0.5548 0 0 0.5601 2004.91 1605.10)" font-family='"Liberation Sans", Arial, sans-serif' font-size="100" stroke="#000" stroke-width="1.6" stroke-linejoin="round">**</text>
<text transform="matrix(0.5548 0 0 0.5601 2055.71 2219.85)" font-family='"Liberation Sans", Arial, sans-serif' font-size="100" stroke="#000" stroke-width="1.6" stroke-linejoin="round">**</text>
</svg></body></html>
